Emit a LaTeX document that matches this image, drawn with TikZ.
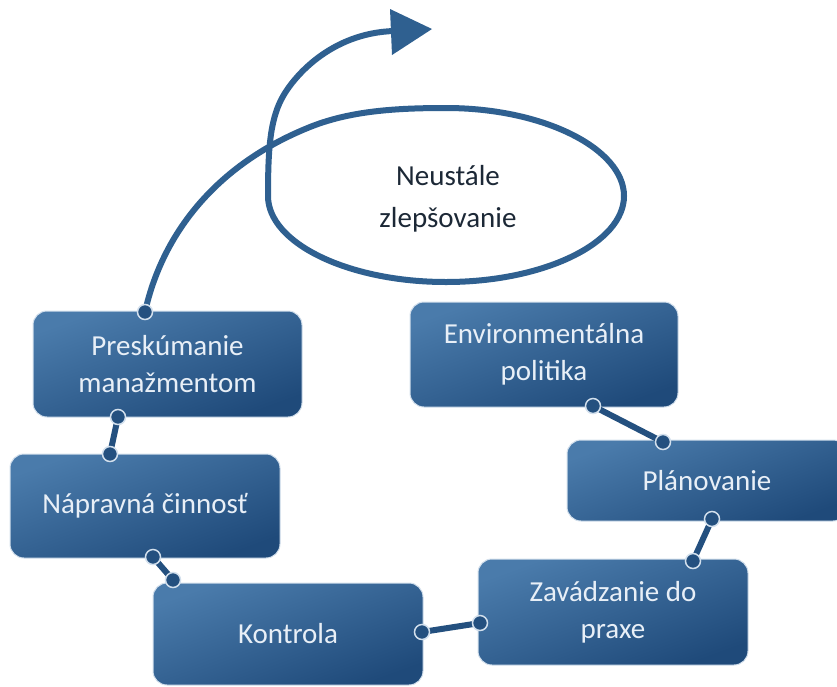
\documentclass[tikz,border=0pt]{standalone}
\usepackage{fontspec}
\setmainfont{Carlito}
\usetikzlibrary{arrows.meta,calc}
\definecolor{boxtop}{HTML}{4A7BAB}
\definecolor{boxbot}{HTML}{1F4A7A}
\definecolor{edgec}{HTML}{D3E0ED}
\definecolor{linec}{HTML}{2F6090}
\definecolor{connc}{HTML}{24507F}
\definecolor{txtc}{HTML}{E8EFF7}
\definecolor{darkc}{HTML}{1C2836}
\begin{document}
\begin{tikzpicture}[x=1pt,y=-1pt,
  stagebox/.style={rounded corners=14pt, draw=edgec, line width=1pt,
    top color=boxtop, bottom color=boxbot, shading angle=20,
    text=txtc, align=center, font=\fontsize{29}{37}\selectfont, inner sep=0pt},
  link/.style={draw=connc, line width=6pt},
  dotc/.style={fill=connc, draw=edgec, line width=1.5pt},
  spiral/.style={draw=linec, line width=6pt}
]
\useasboundingbox (0,0) rectangle (837,686);
\fill[white] (0,0) rectangle (837,686);

% spiral arrow
\coordinate (s0) at (145,312);
\coordinate (s1) at (394,31);
\coordinate (tip) at (432,29);
\coordinate (hb1) at (390,9);
\coordinate (hb2) at (392,55);
\draw[spiral, line join=round]
  (s0) .. controls (162,235) and (215,165) .. (310,127)
       .. controls (350,111) and (395,108) .. (446,108)
       .. controls (544,108) and (624,149) .. (624,196)
       .. controls (624,243) and (544,282) .. (446,282)
       .. controls (348,282) and (268,243) .. (268,196)
       .. controls (268,150) and (270,122) .. (281,100)
       .. controls (292,78) and (330,33) .. (s1);
\fill[linec] (hb1) -- (tip) -- (hb2) -- cycle;
\node[text=darkc, align=center, font=\fontsize{29}{42}\selectfont] (neu) at (448,199) {Neustále\\zlepšovanie};

% boxes
\node[stagebox, minimum width=269pt, minimum height=106pt] (presk) at (167.5,364) {Preskúmanie\\manažmentom};
\node[stagebox, minimum width=270pt, minimum height=104pt] (naprav) at (145,506) {Nápravná činnosť};
\node[stagebox, minimum width=270pt, minimum height=102pt] (kontr) at (288,634) {Kontrola};
\node[stagebox, minimum width=268pt, minimum height=105pt] (env) at (544,354.5) {Environmentálna\\politika};
\node[stagebox, minimum width=280pt, minimum height=81pt] (plan) at (707,480.5) {Plánovanie};
\node[stagebox, minimum width=270pt, minimum height=106pt] (zav) at (613,612) {Zavádzanie do\\praxe};

% connector ends
\coordinate (a1) at (593,406); \coordinate (b1) at (663,442);
\coordinate (a2) at (712,519); \coordinate (b2) at (693,561);
\coordinate (a3) at (480,623); \coordinate (b3) at (422,632);
\coordinate (a4) at (173,580); \coordinate (b4) at (153,557);
\coordinate (a5) at (110,454); \coordinate (b5) at (118,417);

\draw[link] (a1) -- (b1);
\draw[link] (a2) -- (b2);
\draw[link] (a3) -- (b3);
\draw[link] (a4) -- (b4);
\draw[link] (a5) -- (b5);
\foreach \p in {a1,b1,a2,b2,a3,b3,a4,b4,a5,b5,s0}
  \filldraw[dotc] (\p) circle (7.5pt);
\end{tikzpicture}
\end{document}
